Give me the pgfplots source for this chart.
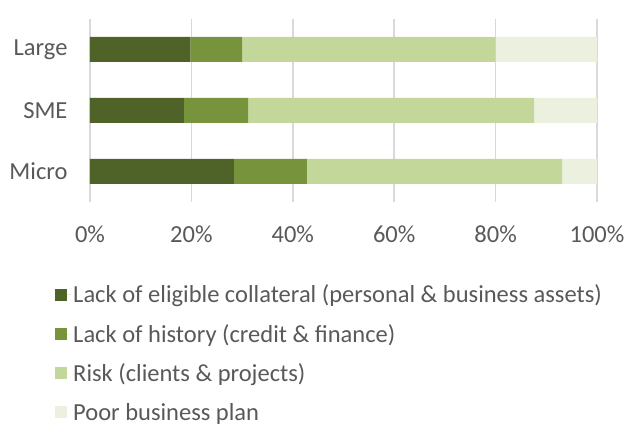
\documentclass[border=0pt]{standalone}
\usepackage{fontspec}
\setmainfont{Carlito}
\usepackage{pgfplots}
\pgfplotsset{compat=1.18}
\definecolor{c1}{HTML}{4F6228}
\definecolor{c2}{HTML}{77933C}
\definecolor{c3}{HTML}{C4D79B}
\definecolor{c4}{HTML}{EBF1DE}
\definecolor{txt}{HTML}{595959}
\definecolor{gridc}{HTML}{D9D9D9}

\begin{document}
\begin{tikzpicture}
\path[use as bounding box] (-90pt,-225pt) rectangle (537pt,202pt);
\begin{axis}[
  at={(0,0)}, anchor=south west,
  scale only axis,
  width=507pt, height=183pt,
  xbar stacked,
  bar width=25pt,
  xmin=0, xmax=100,
  ymin=-0.5, ymax=2.5,
  ytick={0,1,2},
  yticklabels={Micro,SME,Large},
  xtick={0,20,40,60,80,100},
  xticklabel={\pgfmathprintnumber{\tick}\%},
  /pgf/number format/assume math mode=true,
  axis line style={draw=none},
  major tick length=0pt,
  xmajorgrids,
  grid style={gridc, line width=1.5pt},
  tick label style={font=\fontsize{24.5}{26}\selectfont, text=txt},
  xticklabel style={yshift=-20pt},
  yticklabel style={xshift=-19pt},
  legend style={draw=none, fill=none, font=\fontsize{24.5}{26}\selectfont, text=txt,
    at={(-0.069,-0.43)}, anchor=north west, row sep=16pt,
    legend cell align=left, inner xsep=0pt},
  legend image code/.code={\path (0pt,0pt) -- (16pt,0pt); \fill[#1] (0pt,-6pt) rectangle (12pt,6pt);},
]
\addplot[fill=c1, draw=none] coordinates {(28.4,0) (18.5,1) (19.8,2)};
\addlegendentry{Lack of eligible collateral (personal \& business assets)}
\addplot[fill=c2, draw=none] coordinates {(14.4,0) (12.7,1) (10.2,2)};
\addlegendentry{Lack of history (credit \& finance)}
\addplot[fill=c3, draw=none] coordinates {(50.3,0) (56.4,1) (50.0,2)};
\addlegendentry{Risk (clients \& projects)}
\addplot[fill=c4, draw=none] coordinates {(6.9,0) (12.4,1) (20.0,2)};
\addlegendentry{Poor business plan}
\end{axis}
\end{tikzpicture}
\end{document}
